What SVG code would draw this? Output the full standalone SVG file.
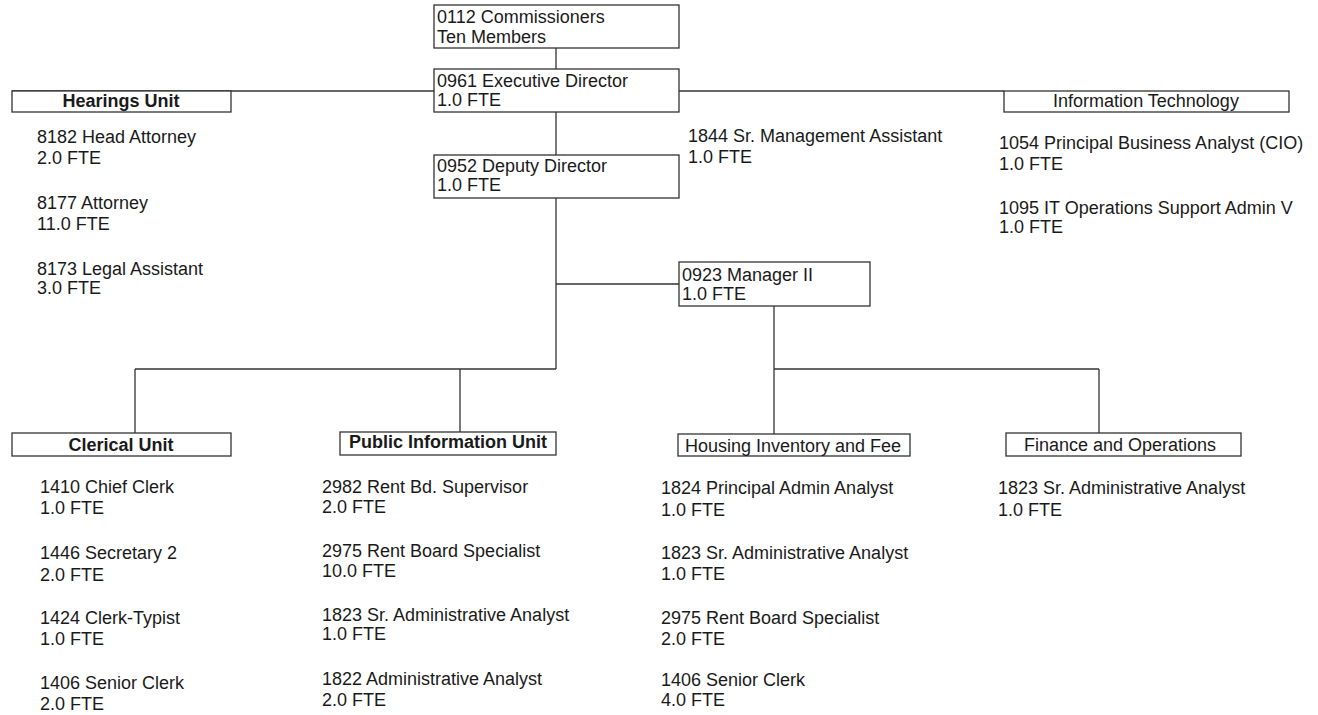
<svg xmlns="http://www.w3.org/2000/svg" width="1318" height="715" viewBox="0 0 1318 715">
<style>
text{font-family:"Liberation Sans",Arial,sans-serif;font-size:18px;fill:#1a1a1a}
.b{font-weight:bold}
.c{text-anchor:middle}
rect{fill:#fff;stroke:#333;stroke-width:1.3}
#connectors line{stroke:#333;stroke-width:1.3}
</style>
<rect x="0" y="0" width="1318" height="715" style="stroke:none"/>
<g id="connectors">
<line x1="556" y1="48" x2="556" y2="69"/>
<line x1="12" y1="91" x2="434" y2="91"/>
<line x1="679" y1="91" x2="1004" y2="91"/>
<line x1="556" y1="112" x2="556" y2="155"/>
<line x1="556" y1="198" x2="556" y2="369"/>
<line x1="556" y1="284" x2="679" y2="284"/>
<line x1="135" y1="369" x2="556" y2="369"/>
<line x1="135" y1="369" x2="135" y2="433"/>
<line x1="460" y1="369" x2="460" y2="432"/>
<line x1="774" y1="306" x2="774" y2="434"/>
<line x1="774" y1="369" x2="1099" y2="369"/>
<line x1="1099" y1="369" x2="1099" y2="433"/>
</g>
<g id="commissioners"><rect x="434" y="5" width="245" height="43"/><text x="437" y="23">0112 Commissioners</text><text x="437" y="43">Ten Members</text></g>
<g id="exec-director"><rect x="434" y="69" width="245" height="43"/><text x="437" y="87">0961 Executive Director</text><text x="437" y="106">1.0 FTE</text></g>
<g id="deputy-director"><rect x="434" y="155" width="245" height="43"/><text x="437" y="172">0952 Deputy Director</text><text x="437" y="191">1.0 FTE</text></g>
<g id="manager-ii"><rect x="679" y="262" width="191" height="44"/><text x="682" y="281">0923 Manager II</text><text x="682" y="300">1.0 FTE</text></g>
<g id="sr-mgmt-assistant"><text x="688" y="142">1844 Sr. Management Assistant</text><text x="688" y="163">1.0 FTE</text></g>
<g id="hearings-unit"><rect x="12" y="91" width="219" height="21"/><text class="b c" x="121" y="107">Hearings Unit</text>
<text x="37" y="143">8182 Head Attorney</text><text x="37" y="164">2.0 FTE</text>
<text x="37" y="209">8177 Attorney</text><text x="37" y="230">11.0 FTE</text>
<text x="37" y="275">8173 Legal Assistant</text><text x="37" y="294">3.0 FTE</text></g>
<g id="information-technology"><rect x="1004" y="91" width="285" height="21"/><text class="c" x="1146" y="107">Information Technology</text>
<text x="999" y="149">1054 Principal Business Analyst (CIO)</text><text x="999" y="170">1.0 FTE</text>
<text x="999" y="214">1095 IT Operations Support Admin V</text><text x="999" y="233">1.0 FTE</text></g>
<g id="clerical-unit"><rect x="12" y="433" width="219" height="23"/><text class="b c" x="121" y="451">Clerical Unit</text>
<text x="40" y="493">1410 Chief Clerk</text><text x="40" y="514">1.0 FTE</text>
<text x="40" y="559">1446 Secretary 2</text><text x="40" y="581">2.0 FTE</text>
<text x="40" y="624">1424 Clerk-Typist</text><text x="40" y="645">1.0 FTE</text>
<text x="40" y="689">1406 Senior Clerk</text><text x="40" y="710">2.0 FTE</text></g>
<g id="public-information-unit"><rect x="340" y="432" width="216" height="23"/><text class="b c" x="448" y="448">Public Information Unit</text>
<text x="322" y="493">2982 Rent Bd. Supervisor</text><text x="322" y="513">2.0 FTE</text>
<text x="322" y="557">2975 Rent Board Specialist</text><text x="322" y="577">10.0 FTE</text>
<text x="322" y="621">1823 Sr. Administrative Analyst</text><text x="322" y="640">1.0 FTE</text>
<text x="322" y="685">1822 Administrative Analyst</text><text x="322" y="706">2.0 FTE</text></g>
<g id="housing-inventory"><rect x="678" y="434" width="232" height="22"/><text class="c" x="793" y="452">Housing Inventory and Fee</text>
<text x="661" y="494">1824 Principal Admin Analyst</text><text x="661" y="516">1.0 FTE</text>
<text x="661" y="559">1823 Sr. Administrative Analyst</text><text x="661" y="580">1.0 FTE</text>
<text x="661" y="624">2975 Rent Board Specialist</text><text x="661" y="645">2.0 FTE</text>
<text x="661" y="686">1406 Senior Clerk</text><text x="661" y="706">4.0 FTE</text></g>
<g id="finance-operations"><rect x="1006" y="433" width="235" height="23"/><text class="c" x="1120" y="451">Finance and Operations</text>
<text x="998" y="494">1823 Sr. Administrative Analyst</text><text x="998" y="516">1.0 FTE</text></g>
</svg>
